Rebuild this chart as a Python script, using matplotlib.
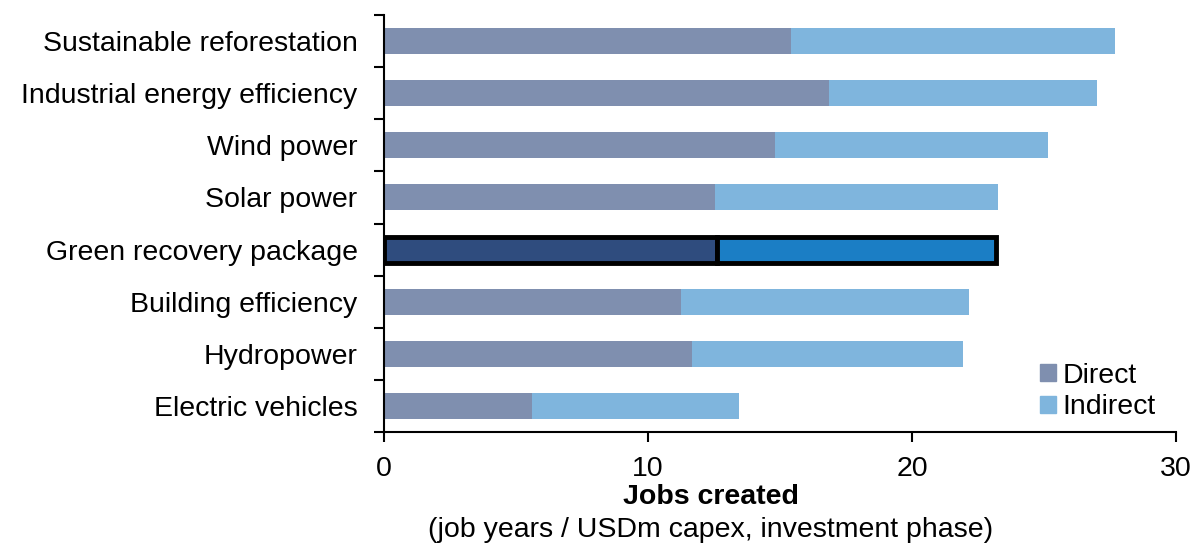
import matplotlib
matplotlib.use("Agg")
import matplotlib.pyplot as plt
from matplotlib.patches import Patch
import numpy as np

plt.rcParams['font.family'] = ['Liberation Sans', 'DejaVu Sans']

categories = [
    "Sustainable reforestation",
    "Industrial energy efficiency",
    "Wind power",
    "Solar power",
    "Green recovery package",
    "Building efficiency",
    "Hydropower",
    "Electric vehicles",
]
direct = [15.4, 16.85, 14.8, 12.55, 12.6, 11.25, 11.65, 5.6]
total = [27.7, 27.0, 25.15, 23.25, 23.2, 22.15, 21.95, 13.45]
indirect = [t - d for t, d in zip(total, direct)]
highlight = "Green recovery package"

c_direct = "#7F8FAF"
c_indirect = "#7FB5DD"
c_direct_hl = "#2F4C7E"
c_indirect_hl = "#1B7EC5"

FS = 20.5

fig = plt.figure(figsize=(11.98, 5.54), dpi=100)
ax = fig.add_axes([384 / 1198, 1 - 432 / 554, (1176 - 384) / 1198, (432 - 15) / 554])

y = np.arange(len(categories))
for i, cat in enumerate(categories):
    if cat == highlight:
        ax.barh(y[i], direct[i], height=0.5, color=c_direct_hl,
                edgecolor="black", linewidth=3.5, zorder=3)
        ax.barh(y[i], indirect[i], left=direct[i], height=0.5,
                color=c_indirect_hl, edgecolor="black", linewidth=3.5, zorder=3)
    else:
        ax.barh(y[i], direct[i], height=0.5, color=c_direct, zorder=2)
        ax.barh(y[i], indirect[i], left=direct[i], height=0.5,
                color=c_indirect, zorder=2)

ax.set_ylim(len(categories) - 0.5, -0.5)
ax.set_xlim(0, 30)
ax.set_xticks([0, 10, 20, 30])

# category labels centred on bars, tick marks on the boundaries between them
ax.set_yticks(y)
ax.set_yticklabels(categories, fontsize=FS)
ax.tick_params(axis="y", length=0, pad=19)
ax.set_yticks(np.arange(len(categories) + 1) - 0.5, minor=True)
ax.tick_params(axis="y", which="minor", length=7, width=1.5, direction="out")

ax.tick_params(axis="x", labelsize=FS, length=7, width=1.5, direction="out", pad=10)

for side in ("top", "right"):
    ax.spines[side].set_visible(False)
for side in ("left", "bottom"):
    ax.spines[side].set_linewidth(1.5)

# axis title: bold headline plus units line, centred under the chart body
fig.text(711 / 1198, 1 - 497 / 554, "Jobs created", fontsize=FS, fontweight="bold",
         ha="center", va="center")
fig.text(711 / 1198, 1 - 530 / 554, "(job years / USDm capex, investment phase)",
         fontsize=FS, ha="center", va="center")

handles = [Patch(color=c_direct, label="Direct"), Patch(color=c_indirect, label="Indirect")]
ax.legend(handles=handles, loc="lower right", bbox_to_anchor=(1.0, -0.02),
          frameon=False, fontsize=FS, handlelength=0.55, handleheight=0.55,
          handletextpad=0.25, labelspacing=0.2, borderpad=0.2)

fig.savefig("out.png", dpi=100)
